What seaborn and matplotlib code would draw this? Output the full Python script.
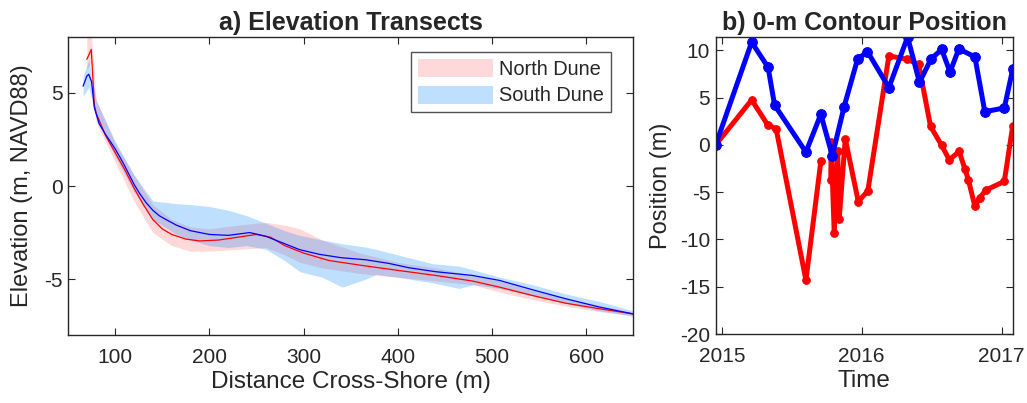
import numpy as np
import pandas as pd
import matplotlib
matplotlib.use("Agg")
import matplotlib.pyplot as plt
import matplotlib.dates as mdates
from matplotlib.patches import Patch
import seaborn as sns

# ---------------- data: a) elevation transects ----------------
north_x = [70, 74.7, 78, 80, 90, 100, 110, 120, 130, 140, 150, 160, 175, 190, 210, 230, 250,
           265, 280, 300, 327, 360, 400, 440, 479, 508, 543, 578, 614, 650]
north_mean = [6.8, 7.33, 4.34, 3.9, 2.7, 1.8, 0.9, -0.1, -1.0, -1.8, -2.3, -2.6, -2.85, -2.95,
              -2.9, -2.75, -2.6, -2.75, -3.2, -3.6, -4.0, -4.25, -4.53, -4.8, -5.1, -5.43,
              -5.88, -6.29, -6.59, -6.87]

north_band_x = [70, 75, 80, 100, 120, 140, 160, 180, 200, 230, 260, 280, 296, 320, 360, 400,
                440, 480, 508, 543, 578, 614, 650]
north_lo = [6.3, 6.6, 3.4, 1.3, -0.8, -2.5, -3.2, -3.5, -3.5, -3.4, -3.3, -3.7, -4.1, -4.4,
            -4.7, -4.9, -5.1, -5.3, -5.7, -6.1, -6.45, -6.75, -6.95]
north_hi = [8.0, 8.0, 4.6, 2.3, 0.6, -1.0, -1.8, -2.2, -2.3, -2.1, -1.95, -2.1, -2.3, -2.9,
            -3.6, -4.1, -4.4, -4.8, -5.1, -5.6, -6.0, -6.4, -6.8]

south_x = [66, 70, 72, 75, 78, 83, 90, 94, 100, 105, 110, 115, 120, 126, 133, 140, 147, 154,
           165, 180, 200, 220, 243, 260, 280, 296, 317, 340, 366, 390, 412, 440, 479, 508,
           543, 578, 614, 650]
south_mean = [5.36, 5.9, 6.0, 5.6, 4.2, 3.35, 2.75, 2.46, 2.0, 1.56, 1.1, 0.6, 0.1, -0.4,
              -0.9, -1.3, -1.6, -1.8, -2.1, -2.4, -2.6, -2.65, -2.5, -2.7, -3.1, -3.42,
              -3.67, -3.85, -3.96, -4.15, -4.39, -4.6, -4.8, -5.07, -5.57, -6.05, -6.5, -6.87]

south_band_x = [66, 72, 80, 100, 120, 140, 165, 180, 200, 220, 240, 260, 280, 296, 320, 341,
                366, 377, 400, 437, 465, 480, 508, 543, 578, 614, 650]
south_lo = [4.8, 5.3, 3.6, 1.6, -0.3, -1.8, -2.6, -2.9, -3.2, -3.3, -3.2, -3.4, -4.0, -4.6,
            -4.9, -5.43, -5.0, -4.75, -4.9, -5.2, -5.5, -5.3, -5.5, -5.9, -6.3, -6.7, -7.0]
south_hi = [5.9, 6.76, 4.6, 2.4, 0.6, -0.8, -0.95, -1.0, -1.1, -1.3, -1.6, -2.0, -2.4, -2.65,
            -2.9, -3.1, -3.28, -3.4, -3.7, -4.17, -4.3, -4.5, -4.89, -5.3, -5.79, -6.2, -6.7]

# ---------------- data: b) 0-m contour position ----------------
south_dates = ["2014-12-15", "2015-03-19", "2015-05-01", "2015-05-18", "2015-08-08",
               "2015-09-16", "2015-10-16", "2015-11-16", "2015-12-21", "2016-01-16",
               "2016-03-12", "2016-04-30", "2016-05-31", "2016-06-30", "2016-07-28",
               "2016-08-19", "2016-09-11", "2016-10-23", "2016-11-18", "2017-01-08",
               "2017-01-30"]
south_pos = [0.0, 10.85, 8.2, 4.2, -0.77, 3.24, -1.16, 4.05, 9.05, 9.85, 6.05, 11.4, 6.6,
             9.05, 10.1, 7.7, 10.14, 9.3, 3.5, 3.9, 8.0]

north_dates_1 = ["2014-12-15", "2015-03-19", "2015-04-30", "2015-05-22", "2015-08-08",
                 "2015-09-16"]
north_pos_1 = [0.0, 4.75, 2.1, 1.7, -14.3, -1.76]
north_dates_2 = ["2015-10-12", "2015-10-13", "2015-10-21", "2015-10-30", "2015-11-03",
                 "2015-11-19", "2015-12-23", "2016-01-17", "2016-03-12", "2016-04-29",
                 "2016-05-29", "2016-06-29", "2016-07-28", "2016-08-17", "2016-09-12",
                 "2016-09-27", "2016-10-06", "2016-10-23", "2016-11-05", "2016-11-20",
                 "2017-01-08", "2017-01-30"]
north_pos_2 = [-3.77, 0.25, -9.3, -0.6, -7.85, 0.63, -6.0, -4.86, 9.4, 9.05, 8.5, 1.95,
               -0.05, -1.58, -0.7, -2.57, -3.7, -6.5, -5.6, -4.8, -3.87, 2.0]

# ---------------- style ----------------
sns.set_style("white")
plt.rcParams['font.family'] = ['Liberation Sans', 'DejaVu Sans']
plt.rcParams['axes.unicode_minus'] = False
txt = '#262626'

fig = plt.figure(figsize=(10.27, 4.03), dpi=100)
ax1 = fig.add_axes([0.0662, 0.1687, 0.5505, 0.7395])
ax2 = fig.add_axes([0.6969, 0.1712, 0.2892, 0.7370])

# ---- panel a ----
ax1.fill_between(north_band_x, north_lo, north_hi, color=(1, 0, 0), alpha=0.15, lw=0)
sns.lineplot(x=north_x, y=north_mean, ax=ax1, color='red', lw=0.9, sort=False)
ax1.fill_between(south_band_x, south_lo, south_hi, color=(0, 0.5, 1), alpha=0.25, lw=0)
sns.lineplot(x=south_x, y=south_mean, ax=ax1, color='blue', lw=0.9, sort=False)

ax1.set_xlim(50, 650)
ax1.set_ylim(-8, 8)
ax1.set_xticks([100, 200, 300, 400, 500, 600])
ax1.set_yticks([-5, 0, 5])
ax1.set_xlabel("Distance Cross-Shore (m)", fontsize=17.5, color=txt, labelpad=3)
ax1.set_ylabel("Elevation (m, NAVD88)", fontsize=17, color=txt)
ax1.yaxis.set_label_coords(-0.0625, 0.5)
ax1.set_title("a) Elevation Transects", fontsize=18, fontweight='bold', pad=5)
handles = [Patch(facecolor=(1, 0, 0), alpha=0.15, edgecolor='none', label='North Dune'),
           Patch(facecolor=(0, 0.5, 1), alpha=0.25, edgecolor='none', label='South Dune')]
leg = ax1.legend(handles=handles, loc='upper right', fontsize=14.4, frameon=True,
                 fancybox=False, edgecolor='#262626', handlelength=3.75, handleheight=1.0,
                 borderpad=0.35, labelspacing=0.35, handletextpad=0.3, borderaxespad=0,
                 bbox_to_anchor=(0.961, 0.95))
leg.get_frame().set_linewidth(1.0)

# ---- panel b ----
sd = pd.to_datetime(south_dates)
nd1 = pd.to_datetime(north_dates_1)
nd2 = pd.to_datetime(north_dates_2)
sns.lineplot(x=nd1, y=north_pos_1, ax=ax2, color='red', lw=3.6, marker='o', ms=5.5,
             mec='red', sort=False)
sns.lineplot(x=nd2, y=north_pos_2, ax=ax2, color='red', lw=3.6, marker='o', ms=5.5,
             mec='red', sort=False)
sns.lineplot(x=sd, y=south_pos, ax=ax2, color='blue', lw=3.6, marker='o', ms=7,
             mec='blue', sort=False)

ax2.set_xlim(sd.min(), sd.max())
ax2.set_ylim(-20, max(south_pos))
ax2.set_yticks([-20, -15, -10, -5, 0, 5, 10])
ax2.xaxis.set_major_locator(mdates.YearLocator())
ax2.xaxis.set_major_formatter(mdates.DateFormatter('%Y'))
ax2.set_xlabel("Time", fontsize=17.5, color=txt, labelpad=3)
ax2.set_ylabel("Position (m)", fontsize=17, color=txt)
ax2.yaxis.set_label_coords(-0.147, 0.5)
ax2.set_title("b) 0-m Contour Position", fontsize=18, fontweight='bold', pad=5)

for ax in (ax1, ax2):
    ax.tick_params(direction='in', length=5, width=0.8, bottom=True, left=True, top=True,
                   right=True, labelsize=15, colors=txt)
    ax.tick_params(axis='x', pad=9.5)
    ax.tick_params(axis='y', pad=4)
    for s in ax.spines.values():
        s.set_color('#262626')
        s.set_linewidth(1.0)
    ax.grid(False)

fig.savefig("out.png", dpi=100)
